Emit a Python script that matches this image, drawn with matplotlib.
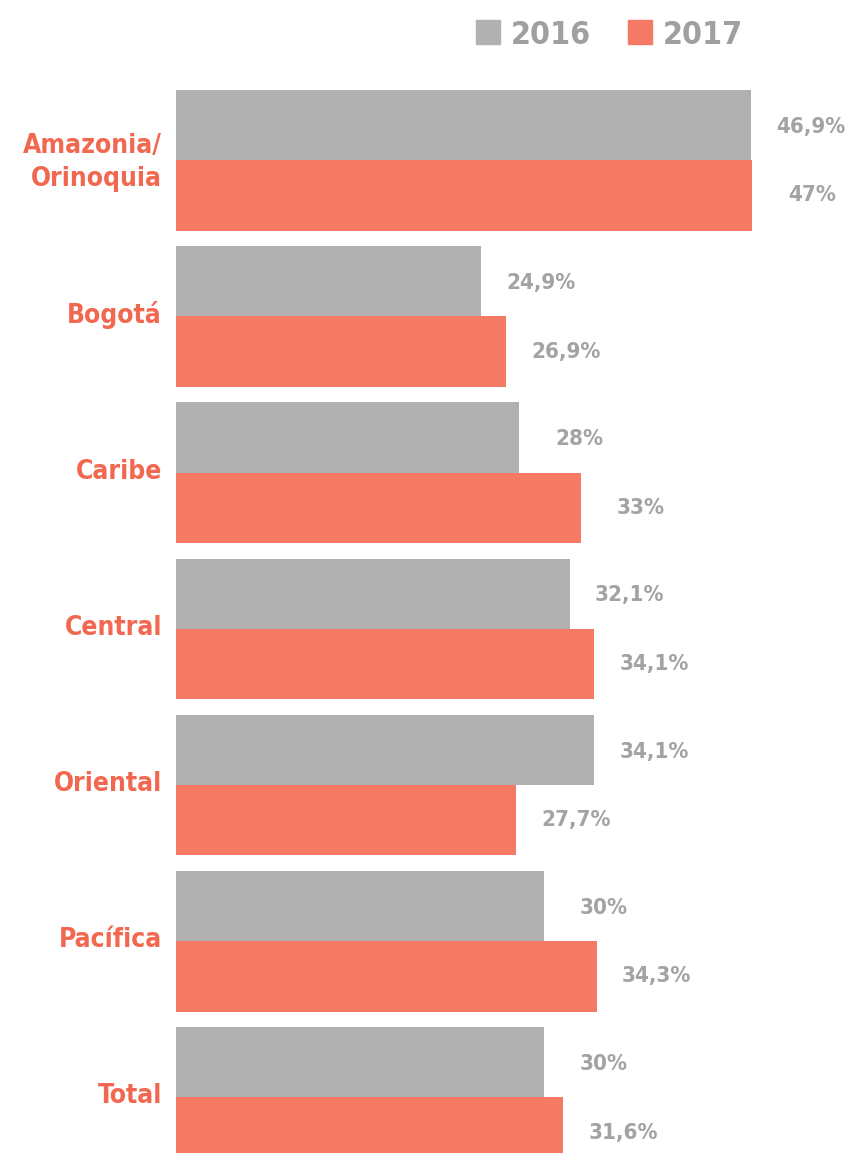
import matplotlib
matplotlib.use('Agg')
import matplotlib.pyplot as plt
from matplotlib.lines import Line2D
from matplotlib.transforms import ScaledTranslation
import numpy as np

# regions and yearly shares (%)
regions = ['Amazonia/\nOrinoquia', 'Bogotá', 'Caribe', 'Central', 'Oriental', 'Pacífica', 'Total']
v2016 = [46.9, 24.9, 28.0, 32.1, 34.1, 30.0, 30.0]
v2017 = [47.0, 26.9, 33.0, 34.1, 27.7, 34.3, 31.6]
years = ['2016', '2017']

gray = '#b1b1b1'
salmon = '#f47a66'
label_red = '#f2674f'
text_gray = '#a3a3a3'
font = ['DejaVu Sans']


def fmt(v):
    # spanish style decimal comma, drop trailing ,0
    s = ('%.1f' % v).replace('.', ',')
    if s.endswith(',0'):
        s = s[:-2]
    return s + '%'


fig = plt.figure(figsize=(8.48, 11.53), dpi=100)
ax = fig.add_axes([176 / 848, 0, 1 - 176 / 848, 1 - 90 / 1153])

y = np.arange(len(regions))
h = 0.45
ax.barh(y - h / 2, v2016, height=h, color=gray)
ax.barh(y + h / 2, v2017, height=h, color=salmon)

ax.set_xlim(0, 672 / 12.26)
ax.set_ylim(-0.45 + 1063 / 156.2, -0.45)

# value labels, centred a little past the bar end
for i in range(len(regions)):
    ax.text(v2016[i] + 4.9, y[i] - h / 2 + 0.01, fmt(v2016[i]), ha='center', va='center',
            fontsize=16, fontweight='bold', color=text_gray, family=font, stretch='condensed')
    ax.text(v2017[i] + 4.9, y[i] + h / 2, fmt(v2017[i]), ha='center', va='center',
            fontsize=16, fontweight='bold', color=text_gray, family=font, stretch='condensed')

ax.set_yticks(y)
ax.set_yticklabels(regions, fontsize=19, fontweight='bold', color=label_red,
                   family=font, stretch='condensed', linespacing=1.35)
ax.tick_params(axis='y', length=0, pad=10)
shift = ScaledTranslation(0, 3 / 72, fig.dpi_scale_trans)
for lab in ax.get_yticklabels():
    lab.set_transform(lab.get_transform() + shift)
ax.set_xticks([])
for s in ax.spines.values():
    s.set_visible(False)

handles = [Line2D([], [], marker='s', linestyle='none', markersize=17, color=c)
           for c in [gray, salmon]]
leg = fig.legend(handles, years, loc='upper right', bbox_to_anchor=(0.91, 1.008),
                 ncol=2, frameon=False, handletextpad=0.25, columnspacing=1.1,
                 handlelength=0.9,
                 prop={'family': font, 'weight': 'bold', 'size': 23, 'stretch': 'condensed'})
for t in leg.get_texts():
    t.set_color('#a0a0a0')

fig.savefig('out.png', dpi=100)
